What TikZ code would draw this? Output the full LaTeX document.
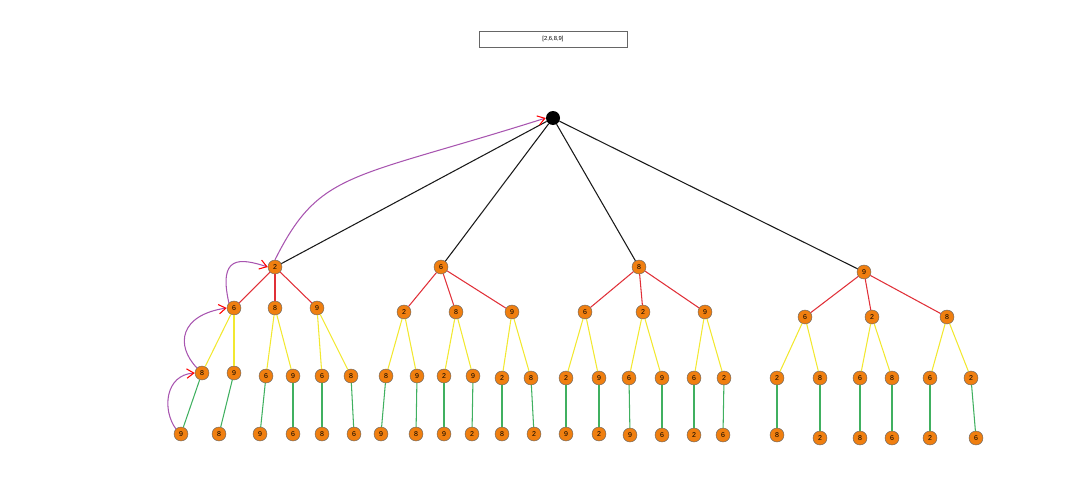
\documentclass[tikz,border=0pt]{standalone}
\usetikzlibrary{arrows.meta}
\usepackage{fontspec}
\setmainfont{Liberation Sans}
\definecolor{og}{HTML}{F07F10}
\definecolor{rd}{HTML}{E03038}
\definecolor{yl}{HTML}{F2E830}
\definecolor{gn}{HTML}{40B060}
\definecolor{pu}{HTML}{A855B0}
\begin{document}
\begin{tikzpicture}[x=0.03cm,y=-0.03cm,
 nd/.style={circle,fill=og,draw=black!60,inner sep=0pt,minimum size=14*0.03cm,font=\fontsize{6}{6}\selectfont},
 e1/.style={black!90,line width=0.9pt},
 e2/.style={rd,line width=0.9pt},
 e3/.style={yl,line width=0.9pt},
 e4/.style={gn,line width=0.9pt},
 pa/.style={pu,line width=0.9pt,-{Straight Barb[red,length=6pt,width=8pt]}}]
\useasboundingbox (0,0) rectangle (1080,477);
\node[draw=black!60,minimum width=148*0.03cm,minimum height=16*0.03cm,inner sep=0pt,font=\fontsize{5}{5}\selectfont] (box) at (553,39) {[2,6,8,9]};
\node[circle,fill=black,inner sep=0pt,minimum size=14*0.03cm] (r) at (553,118) {};
\foreach \n/\x/\y/\t in {a/275/267/2,b/441/267/6,c/639/267/8,d/864/272/9}{
 \node[nd] (\n) at (\x,\y) {\t}; \draw[e1] (r) -- (\n);}
\foreach \p/\n/\x/\y/\t in {a/aa/234/308/6,a/ab/275/308/8,a/ac/317/308/9,
 b/ba/404/312/2,b/bb/456/312/8,b/bc/512/312/9,
 c/ca/585/312/6,c/cb/643/312/2,c/cc/705/312/9,
 d/da/805/317/6,d/db/872/317/2,d/dc/947/317/8}{
 \node[nd] (\n) at (\x,\y) {\t}; \draw[e2] (\p) -- (\n);}
\foreach \p/\n/\x/\y/\t/\lx/\ly/\lt in {
 aa/aa1/202/373/8/181/434/9, aa/aa2/234/373/9/219/434/8,
 ab/ab1/266/376/6/260/434/9, ab/ab2/293/376/9/293/434/6,
 ac/ac1/322/376/6/322/434/8, ac/ac2/351/376/8/354/434/6,
 ba/ba1/386/376/8/381/434/9, ba/ba2/417/376/9/416/434/8,
 bb/bb1/444/376/2/444/434/9, bb/bb2/473/376/9/472/434/2,
 bc/bc1/502/378/2/502/434/8, bc/bc2/531/378/8/534/434/2,
 ca/ca1/566/378/2/566/434/9, ca/ca2/599/378/9/599/434/2,
 cb/cb1/629/378/6/630/435/9, cb/cb2/662/378/9/662/435/6,
 cc/cc1/694/378/6/694/435/2, cc/cc2/724/378/2/723/435/6,
 da/da1/777/378/2/777/435/8, da/da2/820/378/8/820/438/2,
 db/db1/860/378/6/860/438/8, db/db2/892/378/8/892/438/6,
 dc/dc1/930/378/6/930/438/2, dc/dc2/971/378/2/976/438/6}{
 \node[nd] (\n) at (\x,\y) {\t}; \draw[e3] (\p) -- (\n);
 \node[nd] (\n-l) at (\lx,\ly) {\lt}; \draw[e4] (\n) -- (\n-l);}
\draw[pa] (aa1-l.north west) .. controls (162,410) and (165,375) .. (aa1.west);
\draw[pa] (aa1.north west) .. controls (175,345) and (180,315) .. (aa.west);
\draw[pa] (aa.north west) .. controls (218,255) and (240,258) .. (a.west);
\draw[pa] (a.north) .. controls (320,170) and (350,180) .. (r.west);
\end{tikzpicture}
\end{document}
